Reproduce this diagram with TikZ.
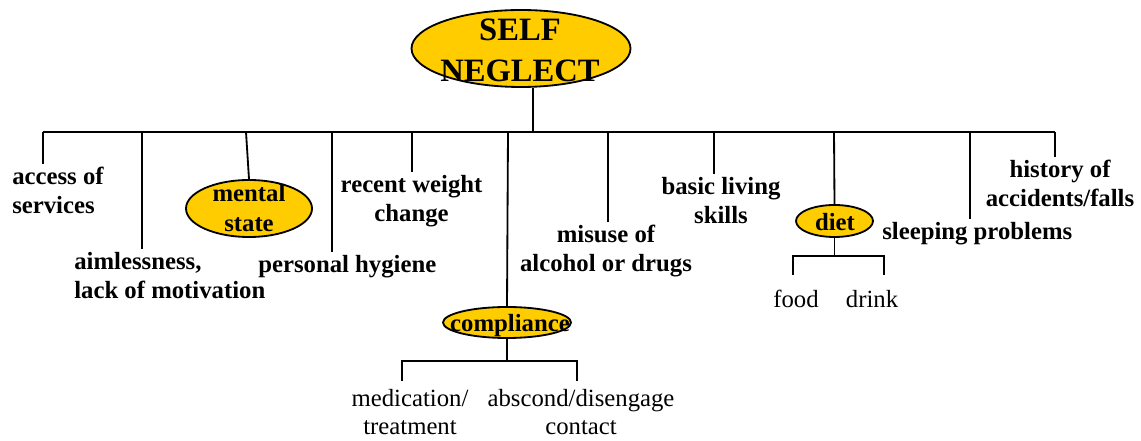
\documentclass[tikz,border=0pt]{standalone}
\usepackage{fontspec}
\setmainfont{Liberation Serif}
\usetikzlibrary{shapes.geometric}
\definecolor{neglectgold}{RGB}{255,204,0}
\begin{document}
\begin{tikzpicture}[
    font=\fontsize{17.6}{20.8}\selectfont\bfseries,
    link/.style={draw=black, line width=1.3pt},
    blob/.style={ellipse, draw=black, line width=1.3pt, fill=neglectgold, inner sep=0pt},
    blobtext/.style={inner sep=0pt, align=center},
    item/.style={inner sep=0pt, anchor=north, align=center},
    leftitem/.style={inner sep=0pt, anchor=north west, align=left},
    subitem/.style={item, font=\fontsize{17.6}{19.6}\selectfont\mdseries},
  ]
  \useasboundingbox (0,0) rectangle (28.525,11);

  % Root: the text runs over the ellipse, so it is a node of its own.
  \node[blob, minimum width=5.475cm, minimum height=1.925cm] (self) at (13.025,9.7875) {};
  \node[blobtext, font=\fontsize{23.2}{29.5}\selectfont\bfseries] (selftxt) at (13.0,9.74) {SELF\\NEGLECT};

  % Bus and the points where the branches leave it.
  \coordinate (top) at (13.325,7.7);
  \foreach \n/\x in {1/1.075, 2/3.55, 3/6.15, 4/8.3, 5/10.3, 6/12.7,
                     7/15.2, 8/17.85, 9/20.85, 10/24.25, 11/26.375}
    \coordinate (b\n) at (\x,7.7);
  \draw[link] (self.south -| top) -- (top);
  \draw[link] (b1) -- (b11);

  % Branches.
  \node[leftitem] (access) at (0.3,6.825) {access of\\services};
  \node[leftitem] (aimless) at (1.85,4.7) {aimlessness,\\lack of motivation};
  \node[blob, minimum width=3.15cm, minimum height=1.425cm] (mental) at (6.225,5.7875) {};
  \node[blobtext] (mentaltxt) at (6.225,5.8) {mental\\state};
  \node[leftitem] (hygiene) at (6.45,4.625) {personal hygiene};
  \node[item] (weight) at (10.29,6.625) {recent weight\\change};
  \node[blob, minimum width=3.2cm, minimum height=0.775cm] (comp) at (12.675,2.9375) {};
  \node[blobtext] (comptxt) at (12.75,2.8625) {compliance};
  \node[item] (misuse) at (15.15,5.375) {misuse of\\alcohol or drugs};
  \node[item] (skills) at (18.025,6.575) {basic living\\skills};
  \node[blob, minimum width=1.925cm, minimum height=0.8cm] (diet) at (20.8625,5.475) {};
  \node[blobtext] (diettxt) at (20.875,5.4375) {diet};
  \node[leftitem] (sleep) at (22.05,5.45) {sleeping problems};
  \node[item] (falls) at (26.5,7.0) {history of\\accidents/falls};

  \foreach \b/\n in {b1/access, b2/aimless, b4/hygiene, b5/weight,
                     b7/misuse, b8/skills, b10/sleep, b11/falls}
    \draw[link, shorten >=2pt] (\b) -- (\b |- \n.north);
  \draw[link] (b3) -- (mental.north);
  \draw[link] (b6) -- (comp.north);
  \draw[link] (b9) -- (diet.north);

  % compliance splits in two.
  \coordinate (cl) at (10.05,1.975);
  \coordinate (cr) at (14.425,1.975);
  \node[subitem] (meds) at (10.25,1.27) {medication/\\treatment};
  \node[subitem] (abscond) at (14.525,1.27) {abscond/disengage\\contact};
  \draw[link] (comp.south) -- (comp.south |- cl);
  \draw[link, shorten <=0.2cm, shorten >=0.2cm]
    (cl |- meds.north) -- (cl) -- (cr) -- (cr |- abscond.north);

  % diet splits in two.
  \coordinate (dl) at (19.825,4.6);
  \coordinate (dr) at (22.1,4.6);
  \node[subitem] (food) at (19.9,3.75) {food};
  \node[subitem] (drink) at (21.8,3.75) {drink};
  \draw[link] (diet.south) -- (diet.south |- dl);
  \draw[link, shorten <=0.375cm, shorten >=0.375cm]
    (dl |- food.north) -- (dl) -- (dr) -- (dr |- drink.north);
\end{tikzpicture}
\end{document}
